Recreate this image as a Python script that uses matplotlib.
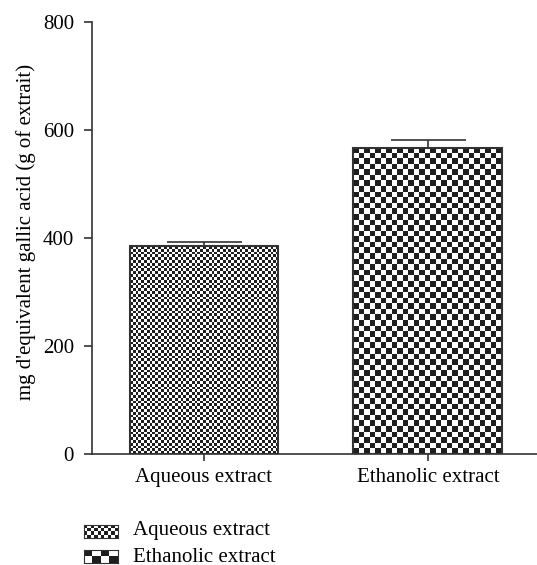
import matplotlib

matplotlib.use("Agg")
import matplotlib.pyplot as plt
import numpy as np
from matplotlib.colors import ListedColormap

plt.rcParams["font.family"] = ["Liberation Serif", "DejaVu Serif"]

categories = ["Aqueous extract", "Ethanolic extract"]
means = [385, 567]
errors = [8, 14]
yticks = [0, 200, 400, 600, 800]
ylabel = "mg d'equivalent gallic acid (g of extrait)"

CELL_PX = [2.8, 5.6]  # checker cell size per bar, in pixels
SWATCH_CELLS = [(4, 10), (2, 4)]  # rows, cols in legend swatches
EDGE = "#333333"
CHECK_CMAP = ListedColormap(["#1e1e1e", "white"])
FS = 15


def checker(ny, nx):
    return np.add.outer(np.arange(ny), np.arange(nx)) % 2


fig = plt.figure(figsize=(5.37, 5.65), dpi=100)
ax = fig.add_axes([92 / 537, 1 - 454 / 565, 445 / 537, 432 / 565])

x = np.arange(len(categories))
width = 0.665
bars = ax.bar(x, means, width=width, facecolor="none", edgecolor=EDGE, linewidth=1.5, zorder=3)
ax.errorbar(x, means, yerr=[[0] * len(errors), errors], fmt="none", ecolor=EDGE,
            elinewidth=1.2, capsize=27, capthick=1.2, zorder=2)

ax.set_xlim(-0.5, 1.487)
ax.set_ylim(0, 800)

for bar, cell in zip(bars, CELL_PX):
    x0, y0 = bar.get_x(), bar.get_y()
    x1, y1 = x0 + bar.get_width(), y0 + bar.get_height()
    p0 = ax.transData.transform((x0, y0))
    p1 = ax.transData.transform((x1, y1))
    nx = max(1, int(round(abs(p1[0] - p0[0]) / cell)))
    ny = max(1, int(round(abs(p1[1] - p0[1]) / cell)))
    im = ax.imshow(checker(ny, nx), cmap=CHECK_CMAP, extent=[x0, x1, y0, y1],
                   aspect="auto", interpolation="nearest", zorder=1)
    im.set_clip_path(bar)

ax.set_xlim(-0.5, 1.487)
ax.set_ylim(0, 800)
ax.set_xticks(x)
ax.set_xticklabels(categories, fontsize=FS)
ax.set_yticks(yticks)
ax.set_yticklabels([str(t) for t in yticks], fontsize=FS)
ax.set_ylabel(ylabel, fontsize=FS, labelpad=6)
ax.yaxis.set_label_coords(-0.125, 0.514)
ax.tick_params(axis="y", direction="out", length=6, width=1.2, color=EDGE, pad=7)
ax.tick_params(axis="x", direction="out", length=5, width=1.2, color=EDGE, pad=5)
for side in ["top", "right"]:
    ax.spines[side].set_visible(False)
for side in ["left", "bottom"]:
    ax.spines[side].set_color(EDGE)
    ax.spines[side].set_linewidth(1.2)

# legend below the plot
legend_rows = [(538, 13, 530), (563, 13, 557)]
for label, (ny, nx), (bottom_px, h_px, text_px) in zip(categories, SWATCH_CELLS, legend_rows):
    sw = fig.add_axes([84 / 537, 1 - bottom_px / 565, 34 / 537, h_px / 565])
    sw.imshow(checker(ny, nx), cmap=CHECK_CMAP, aspect="auto", interpolation="nearest")
    sw.set_xticks([])
    sw.set_yticks([])
    for s in sw.spines.values():
        s.set_color(EDGE)
        s.set_linewidth(0.8)
    fig.text(133 / 537, 1 - text_px / 565, label, fontsize=FS, va="center", ha="left")

fig.savefig("out.png", dpi=100)
